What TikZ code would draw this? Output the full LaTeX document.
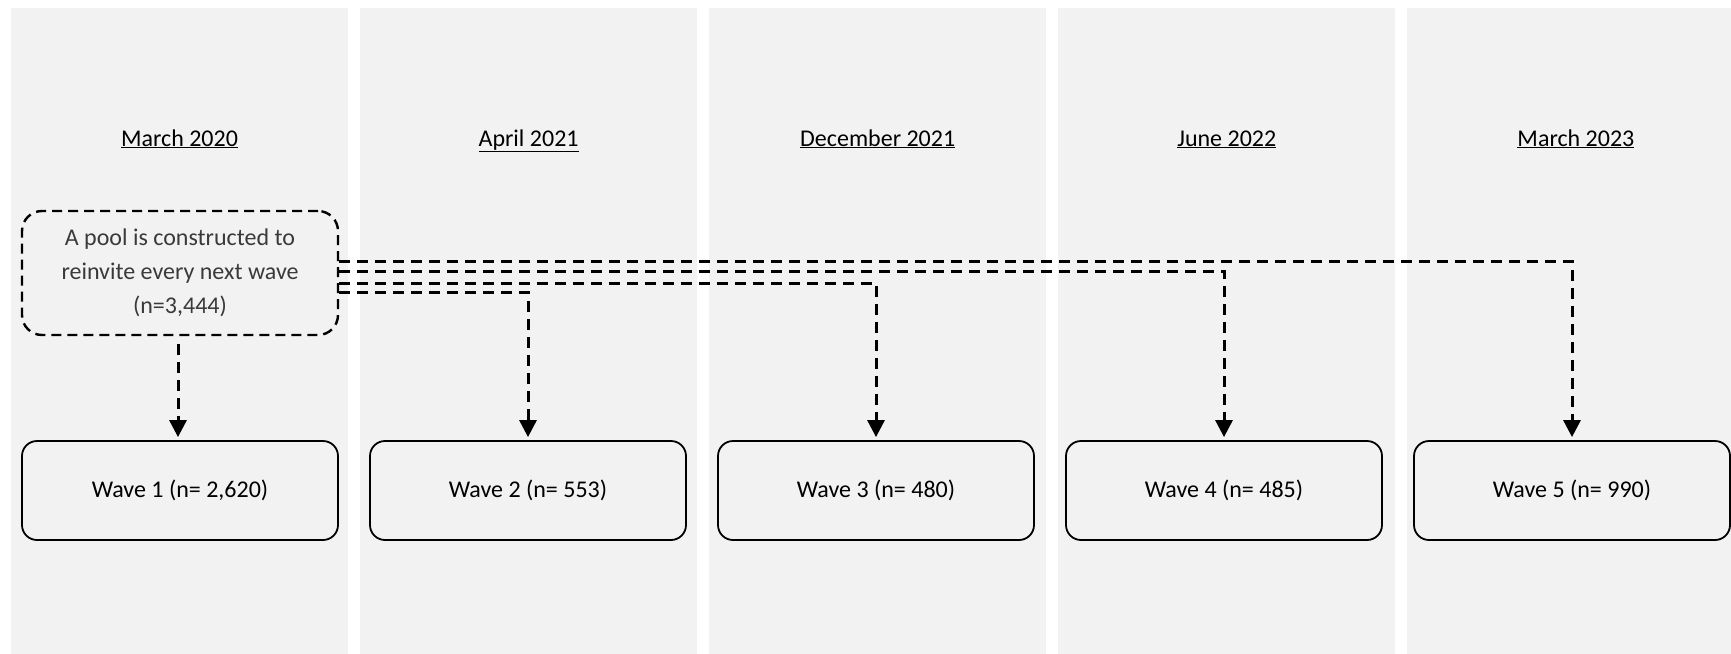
\documentclass[tikz,border=0pt]{standalone}
\usepackage{fontspec}
\setmainfont{Carlito}
\usetikzlibrary{arrows.meta,positioning}
\definecolor{wvpanel}{HTML}{F2F2F2}
\definecolor{wvink}{HTML}{000000}
\definecolor{wvsoft}{HTML}{3A3A3A}
\tikzset{
  wv/.style={font=\fontsize{24}{34}\selectfont, text=wvink},
  wvcol/.style={fill=wvpanel, draw=none, minimum width=337pt, minimum height=660pt, inner sep=0pt},
  wvdate/.style={inner sep=0pt, anchor=base},
  wvbox/.style={draw=wvink, fill=wvpanel, rounded corners=15pt, line width=1.8pt,
    minimum width=316pt, minimum height=99pt, align=center},
  wvpool/.style={draw=wvink, fill=wvpanel, rounded corners=20pt, line width=2.4pt,
    dash pattern=on 10pt off 6pt, minimum width=316pt, minimum height=124pt, align=center, text=wvsoft},
  wvarr/.style={-{Triangle[length=17pt,width=17pt]}, line width=3pt,
    dash pattern=on 11pt off 7pt, draw=wvink, shorten >=3pt},
}

\begin{document}
\begin{tikzpicture}[wv, x=1pt, y=-1pt, node distance=11.7pt and 30.2pt]
  \useasboundingbox[fill=white] (0,0) rectangle (1731,653);
  % panels, one per wave
  \node[wvcol] (c1) at (179.5,338) {};
  \node[wvcol, right=of c1, xshift=-18.5pt] (c2) {};
  \node[wvcol, right=of c2, xshift=-18.5pt] (c3) {};
  \node[wvcol, right=of c3, xshift=-18.5pt] (c4) {};
  \node[wvcol, right=of c4, xshift=-18.5pt] (c5) {};
  \coordinate (base) at (0,146);
  \node[wvdate] (d1) at (c1 |- base) {\underline{March 2020}};
  \node[wvdate] (d2) at (c2 |- base) {\underline{April 2021}};
  \node[wvdate] (d3) at (c3 |- base) {\underline{December 2021}};
  \node[wvdate] (d4) at (c4 |- base) {\underline{June 2022}};
  \node[wvdate] (d5) at (c5 |- base) {\underline{March 2023}};
  \node[wvpool] (pool) at (180,273) {A pool is constructed to\\reinvite every next wave\\(n=3,444)};
  \node[wvbox] (w1) at (180,490.5) {Wave 1 (n= 2,620)};
  \node[wvbox, right=of w1] (w2) {Wave 2 (n= 553)};
  \node[wvbox, right=of w2] (w3) {Wave 3 (n= 480)};
  \node[wvbox, right=of w3] (w4) {Wave 4 (n= 485)};
  \node[wvbox, right=of w4] (w5) {Wave 5 (n= 990)};
  \draw[wvarr, shorten <=8pt] ([xshift=-2pt]pool.south) -- ([xshift=-2pt]w1.north);
  \draw[wvarr] ([yshift=-19pt]pool.east) -| (w2.north);
  \draw[wvarr] ([yshift=-10pt]pool.east) -| (w3.north);
  \draw[wvarr] ([yshift=2pt]pool.east) -| (w4.north);
  \draw[wvarr] ([yshift=12pt]pool.east) -| (w5.north);
\end{tikzpicture}
\end{document}
